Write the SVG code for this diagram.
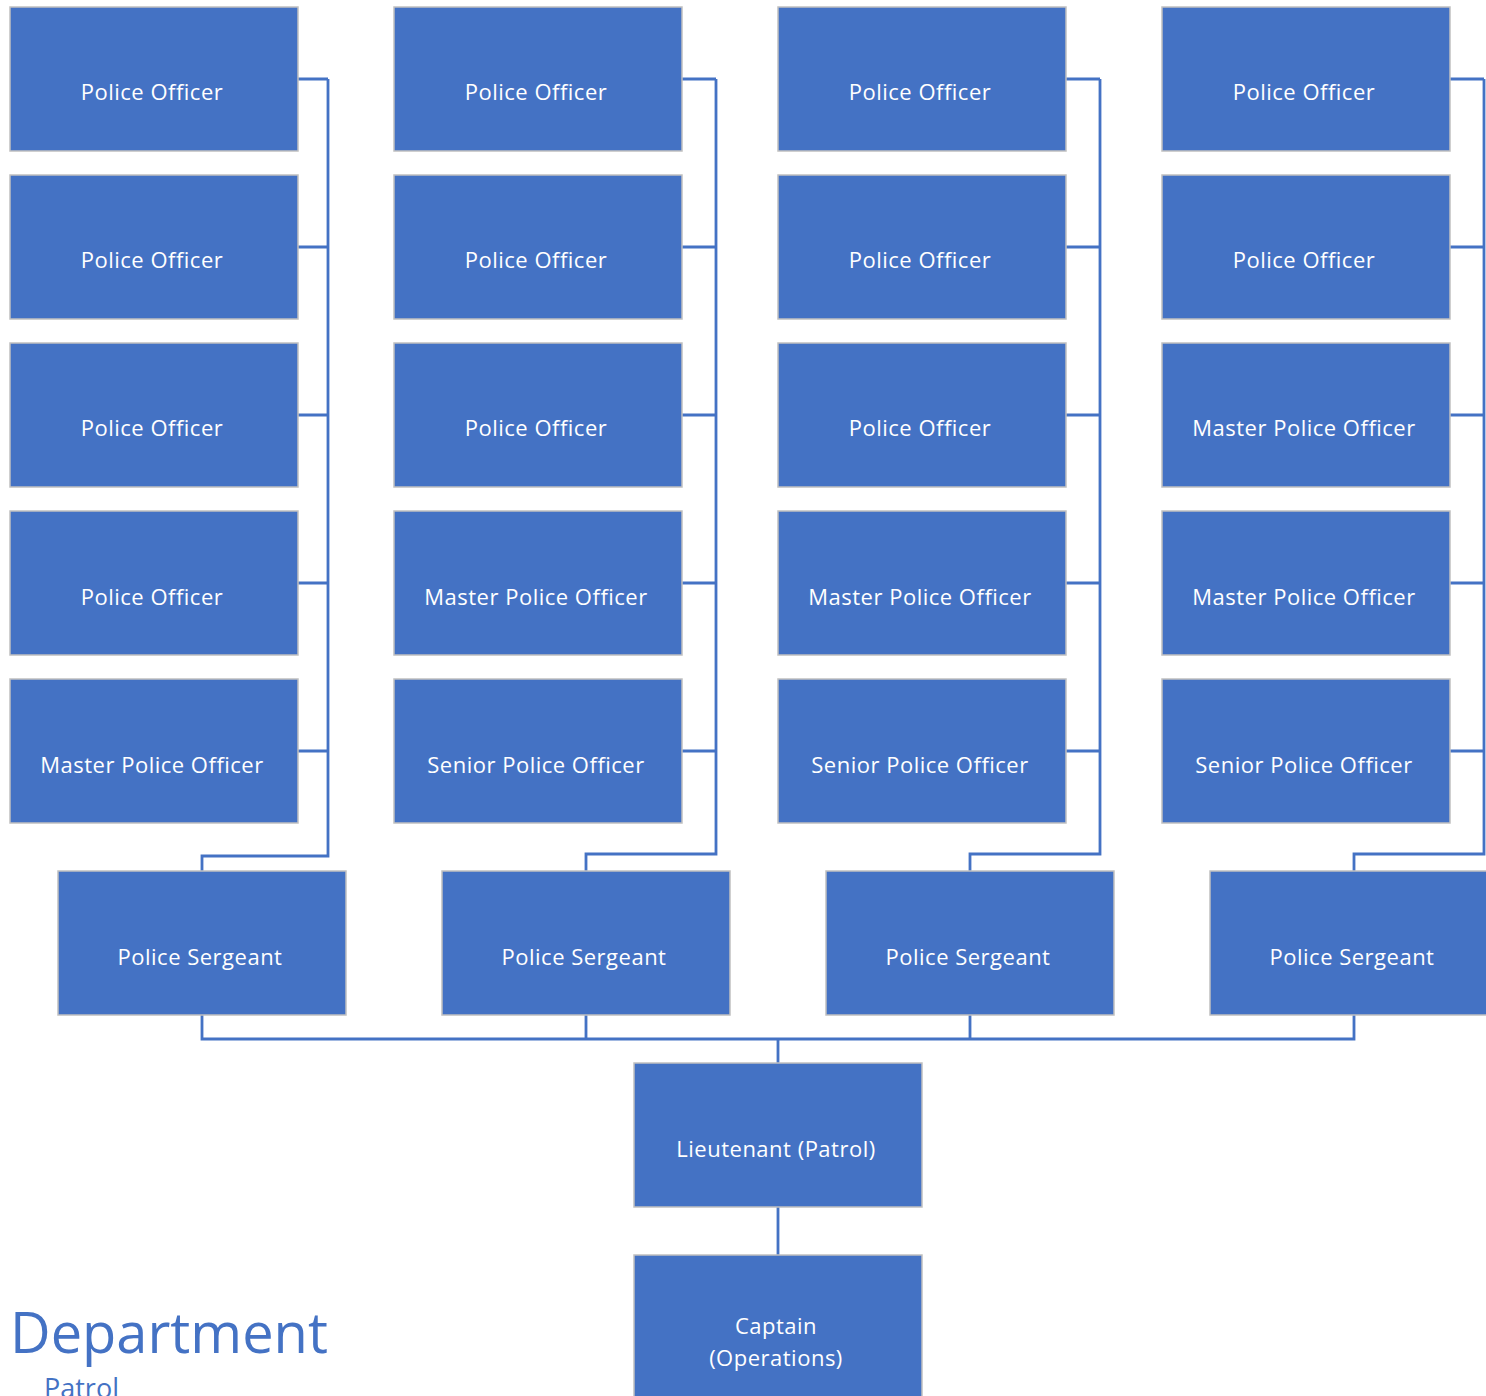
<svg xmlns="http://www.w3.org/2000/svg" width="1486" height="1396" viewBox="0 0 1486 1396">
<style>
.box{fill:#4472c4;stroke:#c0c0c0;stroke-width:1.5}
.t{fill:#ffffff;font-family:"Open Sans","Liberation Sans",sans-serif;font-size:22px;text-anchor:middle;letter-spacing:0.5px}
.c{fill:none;stroke:#4472c4;stroke-width:2.8}
</style>
<rect width="1486" height="1396" fill="#ffffff"/>
<g id="connectors">
<path class="c" d="M298 79H328M298 247H328M298 415H328M298 583H328M298 751H328M328 79V856H202V871"/>
<path class="c" d="M682 79H716M682 247H716M682 415H716M682 583H716M682 751H716M716 79V854H586V871"/>
<path class="c" d="M1066 79H1100M1066 247H1100M1066 415H1100M1066 583H1100M1066 751H1100M1100 79V854H970V871"/>
<path class="c" d="M1450 79H1484M1450 247H1484M1450 415H1484M1450 583H1484M1450 751H1484M1484 79V854H1354V871"/>
<path class="c" d="M202 1015V1039H1354V1015M586 1015V1039M970 1015V1039M778 1039V1063M778 1207V1255"/>
</g>
<g id="n1_1"><rect class="box" x="10" y="7" width="288" height="144"/><text class="t" x="152" y="100">Police Officer</text></g>
<g id="n1_2"><rect class="box" x="10" y="175" width="288" height="144"/><text class="t" x="152" y="268">Police Officer</text></g>
<g id="n1_3"><rect class="box" x="10" y="343" width="288" height="144"/><text class="t" x="152" y="436">Police Officer</text></g>
<g id="n1_4"><rect class="box" x="10" y="511" width="288" height="144"/><text class="t" x="152" y="605">Police Officer</text></g>
<g id="n1_5"><rect class="box" x="10" y="679" width="288" height="144"/><text class="t" x="152" y="773">Master Police Officer</text></g>
<g id="n2_1"><rect class="box" x="394" y="7" width="288" height="144"/><text class="t" x="536" y="100">Police Officer</text></g>
<g id="n2_2"><rect class="box" x="394" y="175" width="288" height="144"/><text class="t" x="536" y="268">Police Officer</text></g>
<g id="n2_3"><rect class="box" x="394" y="343" width="288" height="144"/><text class="t" x="536" y="436">Police Officer</text></g>
<g id="n2_4"><rect class="box" x="394" y="511" width="288" height="144"/><text class="t" x="536" y="605">Master Police Officer</text></g>
<g id="n2_5"><rect class="box" x="394" y="679" width="288" height="144"/><text class="t" x="536" y="773">Senior Police Officer</text></g>
<g id="n3_1"><rect class="box" x="778" y="7" width="288" height="144"/><text class="t" x="920" y="100">Police Officer</text></g>
<g id="n3_2"><rect class="box" x="778" y="175" width="288" height="144"/><text class="t" x="920" y="268">Police Officer</text></g>
<g id="n3_3"><rect class="box" x="778" y="343" width="288" height="144"/><text class="t" x="920" y="436">Police Officer</text></g>
<g id="n3_4"><rect class="box" x="778" y="511" width="288" height="144"/><text class="t" x="920" y="605">Master Police Officer</text></g>
<g id="n3_5"><rect class="box" x="778" y="679" width="288" height="144"/><text class="t" x="920" y="773">Senior Police Officer</text></g>
<g id="n4_1"><rect class="box" x="1162" y="7" width="288" height="144"/><text class="t" x="1304" y="100">Police Officer</text></g>
<g id="n4_2"><rect class="box" x="1162" y="175" width="288" height="144"/><text class="t" x="1304" y="268">Police Officer</text></g>
<g id="n4_3"><rect class="box" x="1162" y="343" width="288" height="144"/><text class="t" x="1304" y="436">Master Police Officer</text></g>
<g id="n4_4"><rect class="box" x="1162" y="511" width="288" height="144"/><text class="t" x="1304" y="605">Master Police Officer</text></g>
<g id="n4_5"><rect class="box" x="1162" y="679" width="288" height="144"/><text class="t" x="1304" y="773">Senior Police Officer</text></g>
<g id="sgt1"><rect class="box" x="58" y="871" width="288" height="144"/><text class="t" x="200" y="965">Police Sergeant</text></g>
<g id="sgt2"><rect class="box" x="442" y="871" width="288" height="144"/><text class="t" x="584" y="965">Police Sergeant</text></g>
<g id="sgt3"><rect class="box" x="826" y="871" width="288" height="144"/><text class="t" x="968" y="965">Police Sergeant</text></g>
<g id="sgt4"><rect class="box" x="1210" y="871" width="288" height="144"/><text class="t" x="1352" y="965">Police Sergeant</text></g>
<g id="lt"><rect class="box" x="634" y="1063" width="288" height="144"/><text class="t" x="776" y="1157">Lieutenant (Patrol)</text></g>
<g id="capt"><rect class="box" x="634" y="1255" width="288" height="160"/><text class="t" x="776" y="1334">Captain</text><text class="t" x="776" y="1366">(Operations)</text></g>
<g id="title" font-family="'Open Sans','Liberation Sans',sans-serif" fill="#4472c4">
<text x="10" y="1353" font-size="56">Department</text>
<text x="44" y="1398" font-size="27">Patrol</text>
</g>
</svg>
